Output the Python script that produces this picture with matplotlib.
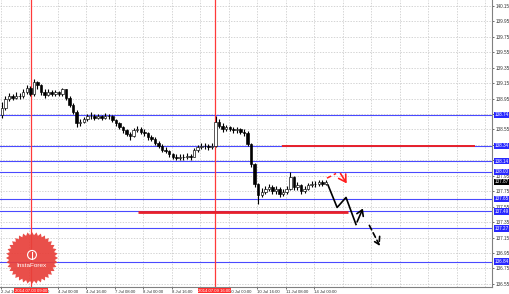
import numpy as np
import matplotlib.pyplot as plt
from matplotlib.transforms import blended_transform_factory
from matplotlib.patches import Polygon, Circle

# USDJPY H1 chart, shown here as 2-hour candles; x = hours since 2 Jul 16:00
first_open = 138.74
closes = [138.83, 138.94, 138.98, 138.96, 138.99, 138.98, 139.04, 139.09, 139.01, 139.17,
          139.12, 139.04, 139.00, 139.04, 139.01, 139.03, 139.01, 139.07, 138.96, 138.87,
          138.78, 138.63, 138.65, 138.68, 138.72, 138.73, 138.70, 138.72, 138.70, 138.73,
          138.72, 138.67, 138.63, 138.58, 138.54, 138.49, 138.47, 138.54, 138.56, 138.52,
          138.50, 138.45, 138.43, 138.38, 138.34, 138.29, 138.27, 138.23, 138.20, 138.18,
          138.20, 138.19, 138.21, 138.20, 138.28, 138.32, 138.33, 138.34, 138.32, 138.34,
          138.65, 138.60, 138.55, 138.58, 138.56, 138.54, 138.55, 138.52, 138.51, 138.36,
          138.10, 137.84, 137.70, 137.74, 137.78, 137.80, 137.75, 137.78, 137.71, 137.74,
          137.78, 137.93, 137.80, 137.83, 137.75, 137.78, 137.83, 137.85, 137.84, 137.87,
          137.85, 137.87]
highs = [138.90, 138.99, 139.02, 139.01, 139.03, 139.02, 139.08, 139.13, 139.11, 139.20,
         139.18, 139.14, 139.07, 139.07, 139.06, 139.06, 139.05, 139.09, 139.08, 138.98,
         138.89, 138.80, 138.69, 138.71, 138.75, 138.77, 138.75, 138.75, 138.74, 138.76,
         138.75, 138.74, 138.69, 138.65, 138.60, 138.56, 138.52, 138.57, 138.59, 138.58,
         138.55, 138.52, 138.48, 138.45, 138.40, 138.36, 138.32, 138.29, 138.25, 138.23,
         138.23, 138.23, 138.24, 138.23, 138.31, 138.35, 138.37, 138.38, 138.36, 138.38,
         138.73, 138.68, 138.63, 138.61, 138.60, 138.58, 138.58, 138.57, 138.55, 138.53,
         138.38, 138.12, 137.86, 137.79, 137.82, 137.84, 137.83, 137.82, 137.81, 137.78,
         137.82, 138.00, 137.95, 137.87, 137.85, 137.82, 137.86, 137.88, 137.88, 137.90,
         137.89, 137.89]
lows = [138.70, 138.80, 138.92, 138.93, 138.94, 138.95, 138.96, 139.01, 138.98, 138.99,
        139.08, 139.00, 138.96, 138.98, 138.98, 138.99, 138.98, 138.99, 138.93, 138.84,
        138.75, 138.58, 138.60, 138.63, 138.66, 138.69, 138.67, 138.68, 138.67, 138.68,
        138.69, 138.65, 138.60, 138.55, 138.51, 138.46, 138.42, 138.45, 138.52, 138.49,
        138.47, 138.42, 138.40, 138.35, 138.31, 138.26, 138.24, 138.20, 138.17, 138.15,
        138.16, 138.16, 138.17, 138.16, 138.19, 138.26, 138.30, 138.30, 138.29, 138.30,
        138.32, 138.57, 138.52, 138.53, 138.53, 138.51, 138.51, 138.49, 138.47, 138.33,
        138.06, 137.80, 137.58, 137.67, 137.71, 137.75, 137.72, 137.72, 137.68, 137.69,
        137.71, 137.76, 137.77, 137.77, 137.72, 137.73, 137.76, 137.80, 137.81, 137.82,
        137.82, 137.83]

price_ticks = [136.55, 136.75, 136.95, 137.15, 137.35, 137.55, 137.75, 137.95, 138.15, 138.35,
               138.55, 138.75, 138.95, 139.15, 139.35, 139.55, 139.75, 139.95, 140.15]
time_ticks = [0, 16, 32, 48, 64, 80, 96, 112, 128, 144, 160, 176]
time_labels = ["2 Jul 16:00", "3 Jul 08:00", "4 Jul 00:00", "4 Jul 16:00", "7 Jul 08:00",
               "8 Jul 00:00", "8 Jul 16:00", "9 Jul 08:00", "10 Jul 00:00", "10 Jul 16:00",
               "11 Jul 08:00", "14 Jul 00:00"]

blue_levels = [138.74, 138.34, 138.14, 138.00, 137.65, 137.49, 137.27, 136.84]
red_vlines = [17, 120]
red_vline_labels = ["2014.07.03 09:00", "2014.07.09 16:00"]
red_upper = [138.34, 158, 266]   # price, from, to
red_lower = [137.48, 77, 195]
bid = 137.87

# forecast sketch
red_dash_x = [183.1, 188.2]
red_dash_y = [137.92, 137.98]
red_arrow_x = [189.9, 195.0]
red_arrow_y = [138.01, 137.82]
black_path_x = [183.7, 188.8, 193.8, 199.4, 203.9]
black_path_y = [137.83, 137.54, 137.67, 137.32, 137.56]
black_dash_x = [206.2, 213.5]
black_dash_y = [137.34, 137.01]

plt.rcParams["font.family"] = ["Liberation Sans", "DejaVu Sans"]

W, H = 510, 294
fig = plt.figure(figsize=(W / 100, H / 100), dpi=100)
ax = fig.add_axes([0, 7 / H, 492 / W, 287 / H])
ax.set_xlim(-0.56, 275.8)
ax.set_ylim(136.51, 140.227)

grid_kw = dict(color="#c4c4c4", lw=0.5, ls=(0, (2, 2)), zorder=0)
for p in price_ticks:
    ax.axhline(p, **grid_kw)
for t in range(0, 276, 16):
    ax.axvline(t, **grid_kw)

for p in blue_levels:
    ax.axhline(p, color="#4a4aff", lw=0.8, zorder=1)
for v in red_vlines:
    ax.axvline(v, color="#ff3a3a", lw=0.9, zorder=2)
ax.hlines(red_upper[0], red_upper[1], red_upper[2], color="#e8202a", lw=1.4, zorder=2)
ax.hlines(red_lower[0], red_lower[1], red_lower[2], color="#e8202a", lw=2.0, zorder=2)

# candles
opens = [first_open] + closes[:-1]
xs = np.arange(len(closes)) * 2 + 0.5
ax.vlines(xs, lows, highs, color="black", lw=0.8, zorder=3)
for x, o, c in zip(xs, opens, closes):
    bull = c >= o
    ax.bar(x, max(abs(c - o), 0.005), bottom=min(o, c), width=1.4,
           color="white" if bull else "black", edgecolor="black", lw=0.45, zorder=4)

# forecast arrows
ax.plot(red_dash_x, red_dash_y, color="#ff2020", lw=1.1, ls=(0, (3, 2)), zorder=5)
ax.annotate("", xy=(red_arrow_x[1], red_arrow_y[1]), xytext=(red_arrow_x[0], red_arrow_y[0]),
            arrowprops=dict(arrowstyle="->,head_length=0.5,head_width=0.3", color="#ff2020", lw=1.2),
            zorder=5)
ax.plot(black_path_x[:-1], black_path_y[:-1], color="black", lw=1.2, zorder=5)
ax.annotate("", xy=(black_path_x[-1], black_path_y[-1]), xytext=(black_path_x[-2], black_path_y[-2]),
            arrowprops=dict(arrowstyle="->,head_length=0.4,head_width=0.25", color="black", lw=1.2),
            zorder=5)
ax.annotate("", xy=(black_dash_x[1], black_dash_y[1]), xytext=(black_dash_x[0], black_dash_y[0]),
            arrowprops=dict(arrowstyle="->,head_length=0.5,head_width=0.3", color="black", lw=1.2,
                            ls=(0, (3, 2))),
            zorder=5)

# frame and ticks
for s in ["top", "left"]:
    ax.spines[s].set_visible(False)
for s in ["right", "bottom"]:
    ax.spines[s].set_color("#808080")
    ax.spines[s].set_linewidth(0.8)
ax.yaxis.tick_right()
ax.set_yticks(price_ticks)
ax.set_yticklabels([f"{p:.2f}" for p in price_ticks])
ax.set_xticks(time_ticks)
ax.set_xticklabels(time_labels, ha="left")
ax.tick_params(axis="y", labelsize=3.3, colors="#333333", length=1.5, width=0.5, pad=0.8)
ax.tick_params(axis="x", labelsize=3.1, colors="#333333", length=1.5, width=0.5, pad=0.5)

ty = blended_transform_factory(ax.transAxes, ax.transData)
tx = blended_transform_factory(ax.transData, ax.transAxes)
for p in blue_levels:
    ax.text(1.0045, p, f"{p:.2f}", transform=ty, fontsize=3.3, color="white", va="center",
            ha="left", zorder=10, clip_on=False,
            bbox=dict(boxstyle="square,pad=0.15", fc="#2828ff", ec="none"))
ax.text(1.0045, bid, f"{bid:.2f}", transform=ty, fontsize=3.3, color="white", va="center",
        ha="left", zorder=10, clip_on=False,
        bbox=dict(boxstyle="square,pad=0.15", fc="black", ec="none"))
for v, lab in zip(red_vlines, red_vline_labels):
    ax.text(v, -0.006, lab, transform=tx, fontsize=3.1, color="white", va="top", ha="center",
            zorder=10, clip_on=False,
            bbox=dict(boxstyle="square,pad=0.15", fc="#ff3030", ec="none"))

# InstaForex badge
lax = fig.add_axes([(32 - 26) / W, (H - 258 - 26) / H, 52 / W, 52 / H])
lax.set_xlim(-1, 1)
lax.set_ylim(-1, 1)
lax.set_aspect("equal")
lax.axis("off")
ang = np.linspace(0, 2 * np.pi, 73)[:-1]
rad = np.where(np.arange(72) % 2 == 0, 1.0, 0.88)
lax.add_patch(Polygon(np.c_[rad * np.cos(ang), rad * np.sin(ang)], closed=True,
                      fc="#e8403a", ec="none", alpha=0.92))
lax.add_patch(Circle((0, 0.12), 0.17, fc="none", ec="white", lw=0.8))
lax.plot([0, 0], [-0.05, 0.25], color="white", lw=0.8)
lax.text(0, -0.28, "InstaForex", color="white", fontsize=4.6, ha="center", va="center")

fig.savefig("out.png", dpi=100)
